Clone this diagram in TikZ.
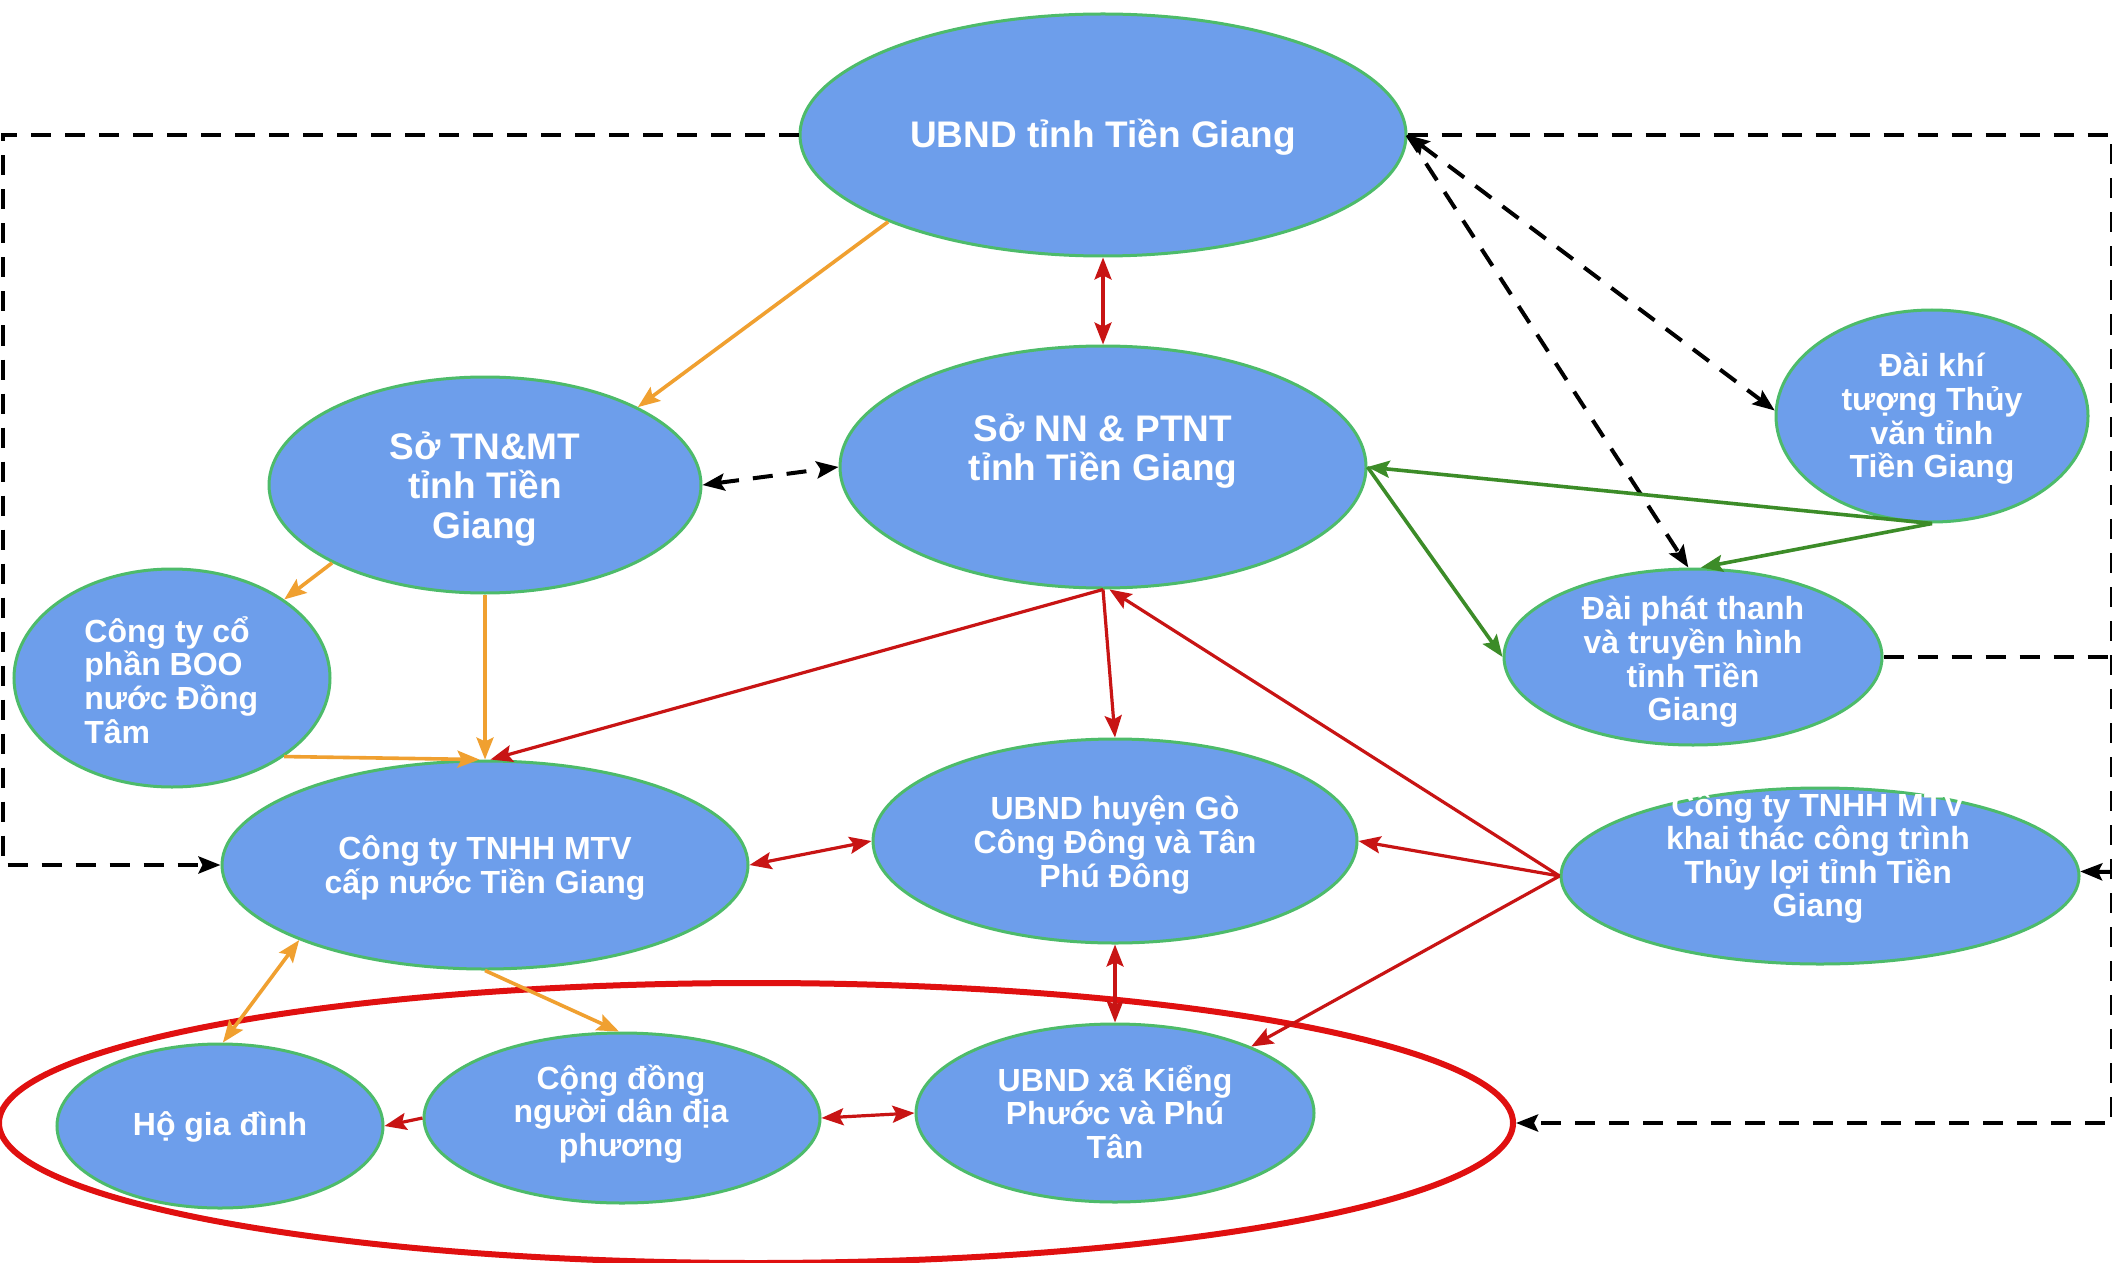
\documentclass[tikz,border=0pt]{standalone}
\usepackage{fontspec}
\setmainfont{Liberation Sans}
\usetikzlibrary{arrows.meta,shapes.geometric}
\definecolor{nodefill}{HTML}{6D9EEB}
\definecolor{nodeline}{HTML}{4DBB6A}
\definecolor{orng}{HTML}{F0A030}
\definecolor{dred}{HTML}{C81414}
\definecolor{grn}{HTML}{3C8C28}
\definecolor{bred}{HTML}{E01010}
\tikzset{
  >={Stealth[length=11pt,width=8.5pt,inset=2pt]},
  org/.style={ellipse, draw=nodeline, line width=1.5pt, fill=nodefill, inner sep=0pt},
  lbl/.style={text=white, font=\bfseries\fontsize{16}{16.8}\selectfont, align=center, inner sep=0pt},
  lblbig/.style={lbl, font=\bfseries\fontsize{18.5}{19.7}\selectfont},
  dsh/.style={draw=black, line width=2pt, dash pattern=on 10pt off 7pt},
  ora/.style={draw=orng, line width=1.8pt},
  redc/.style={draw=dred, line width=1.6pt},
  grc/.style={draw=grn, line width=1.8pt},
  grpbox/.style={ellipse, draw=bred, line width=3pt, inner sep=0pt}
}
\begin{document}
\begin{tikzpicture}[x=0.5pt,y=-0.5pt]
\useasboundingbox[fill=white] (0,0) rectangle (2112,1262);

% group ellipse
\node[grpbox, minimum width=757pt, minimum height=140pt] (grp) at (756,1123) {};

% nodes
\node[org, minimum width=303pt, minimum height=121pt] (ubnd) at (1103,135) {};
\node[lblbig] (ubnd-t) at (1103,137) {UBND tỉnh Tiền Giang};

\node[org, minimum width=216pt, minimum height=108pt] (tnmt) at (485,485) {};
\node[lblbig] (tnmt-t) at (485,489) {Sở TN\&MT\\tỉnh Tiền\\Giang};

\node[org, minimum width=263pt, minimum height=121pt] (snn) at (1103,467) {};
\node[lblbig] (snn-t) at (1103,451) {Sở NN \& PTNT\\tỉnh Tiền Giang};

\node[org, minimum width=156pt, minimum height=106pt] (kt) at (1932,416) {};
\node[lbl] (kt-t) at (1932,419) {Đài khí\\tượng Thủy\\văn tỉnh\\Tiền Giang};

\node[org, minimum width=189pt, minimum height=88pt] (dpt) at (1693,657) {};
\node[lbl] (dpt-t) at (1693,662) {Đài phát thanh\\và truyền hình\\tỉnh Tiền\\Giang};

\node[org, minimum width=158pt, minimum height=109pt] (boo) at (172,678) {};
\node[lbl, align=left, anchor=west] (boo-t) at (84,680) {Công ty cổ\\phần BOO\\nước Đồng\\Tâm};

\node[org, minimum width=263pt, minimum height=104pt] (cn) at (485,865) {};
\node[lbl] (cn-t) at (485,868) {Công ty TNHH MTV\\cấp nước Tiền Giang};

\node[org, minimum width=242pt, minimum height=102pt] (hu) at (1115,841) {};
\node[lbl] (hu-t) at (1115,845) {UBND huyện Gò\\Công Đông và Tân\\Phú Đông};

\node[org, minimum width=259pt, minimum height=88pt] (tl) at (1820,876) {};
\node[lbl] (tl-t) at (1818,858) {Công ty TNHH MTV\\khai thác công trình\\Thủy lợi tỉnh Tiền\\Giang};

\node[org, minimum width=163pt, minimum height=82pt] (ho) at (220,1126) {};
\node[lbl] (ho-t) at (220,1127) {Hộ gia đình};

\node[org, minimum width=198pt, minimum height=85pt] (cd) at (622,1118) {};
\node[lbl] (cd-t) at (621,1114) {Cộng đồng\\người dân địa\\phương};

\node[org, minimum width=199pt, minimum height=89pt] (xa) at (1115,1113) {};
\node[lbl] (xa-t) at (1115,1112) {UBND xã Kiểng\\Phước và Phú\\Tân};

% frame coordinates
\coordinate (lt) at (3,135);
\coordinate (lb) at (3,865);
\coordinate (rt) at (2112,135);
\coordinate (rb) at (2112,1123);
\coordinate (rm) at (2112,872);
\coordinate (rd) at (2112,657);

% dashed black connectors
\draw[dsh,->] (ubnd.west) -- (lt) -- (lb) -- (cn.west);
\draw[dsh,->] (ubnd.east) -- (rt) -- (rb) -- (grp.east);
\draw[dsh,->] (rm) -- (tl.1);
\draw[dsh] (dpt.east) -- (rd);
\draw[dsh,<->] (ubnd.east) -- (kt.178);
\draw[dsh,->] (ubnd.east) -- (dpt.93);
\draw[dsh,<->] (tnmt.east) -- (snn.west);

% orange
\draw[ora,->] (ubnd.202) -- (tnmt.27);
\draw[ora,->] (tnmt.207) -- (boo.35);
\draw[ora,->] (tnmt.south) -- (cn.north);
\draw[ora,->] (boo.-35) -- (cn.93);
\draw[ora,<->] (cn.202) -- (ho.88);
\draw[ora,->] (cn.south) -- (cd.92);

% green
\draw[grc,->] (kt.south) -- (snn.east);
\draw[grc,->] (kt.south) -- (dpt.85);
\draw[grc,->] (snn.east) -- (dpt.west);

% red
\draw[redc,<->] (ubnd.south) -- (snn.north);
\draw[redc,->] (snn.south) -- (cn.87);
\draw[redc,->] (snn.south) -- (hu.north);
\draw[redc,->] (tl.west) -- (snn.-87);
\draw[redc,->] (tl.west) -- (hu.east);
\draw[redc,->] (tl.west) -- (xa.26);
\draw[redc,<->] (cn.east) -- (hu.west);
\draw[redc,<->] (hu.south) -- (xa.north);
\draw[redc,->] (cd.west) -- (ho.east);
\draw[redc,<->] (cd.east) -- (xa.west);
\end{tikzpicture}
\end{document}
